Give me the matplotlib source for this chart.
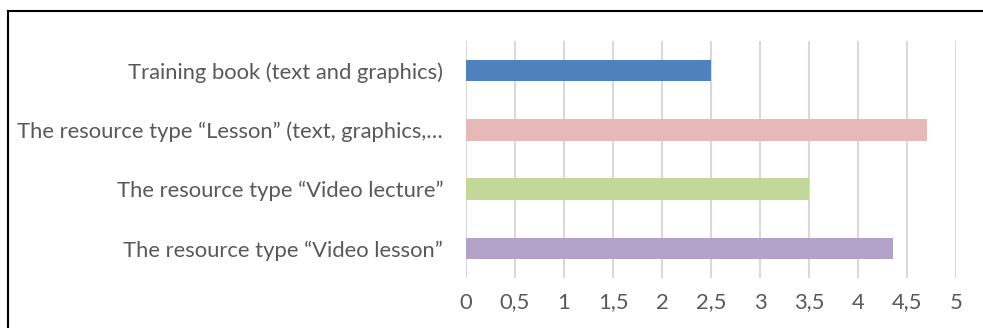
import matplotlib.pyplot as plt
from matplotlib.lines import Line2D
from matplotlib.ticker import FuncFormatter

plt.rcParams['font.family'] = ['Lato', 'DejaVu Sans']

# data
categories = [
    "Training book (text and graphics)",
    "The resource type \u201cLesson\u201d (text, graphics,\u2026",
    "The resource type \u201cVideo lecture\u201d",
    "The resource type \u201cVideo lesson\u201d",
]
scores = [2.5, 4.7, 3.5, 4.36]
colors = ["#4F81BD", "#E6B9B8", "#C4D79B", "#B2A2C7"]
xticks = [0, 0.5, 1, 1.5, 2, 2.5, 3, 3.5, 4, 4.5, 5]

fig = plt.figure(figsize=(9.83, 3.28), dpi=100)
ax = fig.add_axes([466 / 983, 1 - 278 / 328, 490 / 983, 237 / 328])

pos = list(range(len(categories)))
ax.barh(pos, scores, height=0.36, color=colors, zorder=3)
ax.set_ylim(len(categories) - 0.5, -0.5)
ax.set_xlim(0, 5)
ax.set_yticks(pos)
ax.set_yticklabels(categories)
ax.set_xticks(xticks)
ax.xaxis.set_major_formatter(FuncFormatter(lambda v, p: f"{v:g}".replace(".", ",")))

ax.grid(axis="x", color="#D9D9D9", linewidth=1.5, zorder=0)
for s in ax.spines.values():
    s.set_visible(False)
ax.tick_params(length=0, labelsize=15.8, colors="#595959")
ax.tick_params(axis="y", pad=16.5)
ax.tick_params(axis="x", pad=10.5)

# frame lines along the top and left edge
fig.add_artist(Line2D([8 / 983, 1], [1 - 11 / 328, 1 - 11 / 328], color="black", linewidth=1.5))
fig.add_artist(Line2D([8 / 983, 8 / 983], [0, 1 - 11 / 328], color="black", linewidth=1.5))

fig.savefig("out.png", dpi=100)
